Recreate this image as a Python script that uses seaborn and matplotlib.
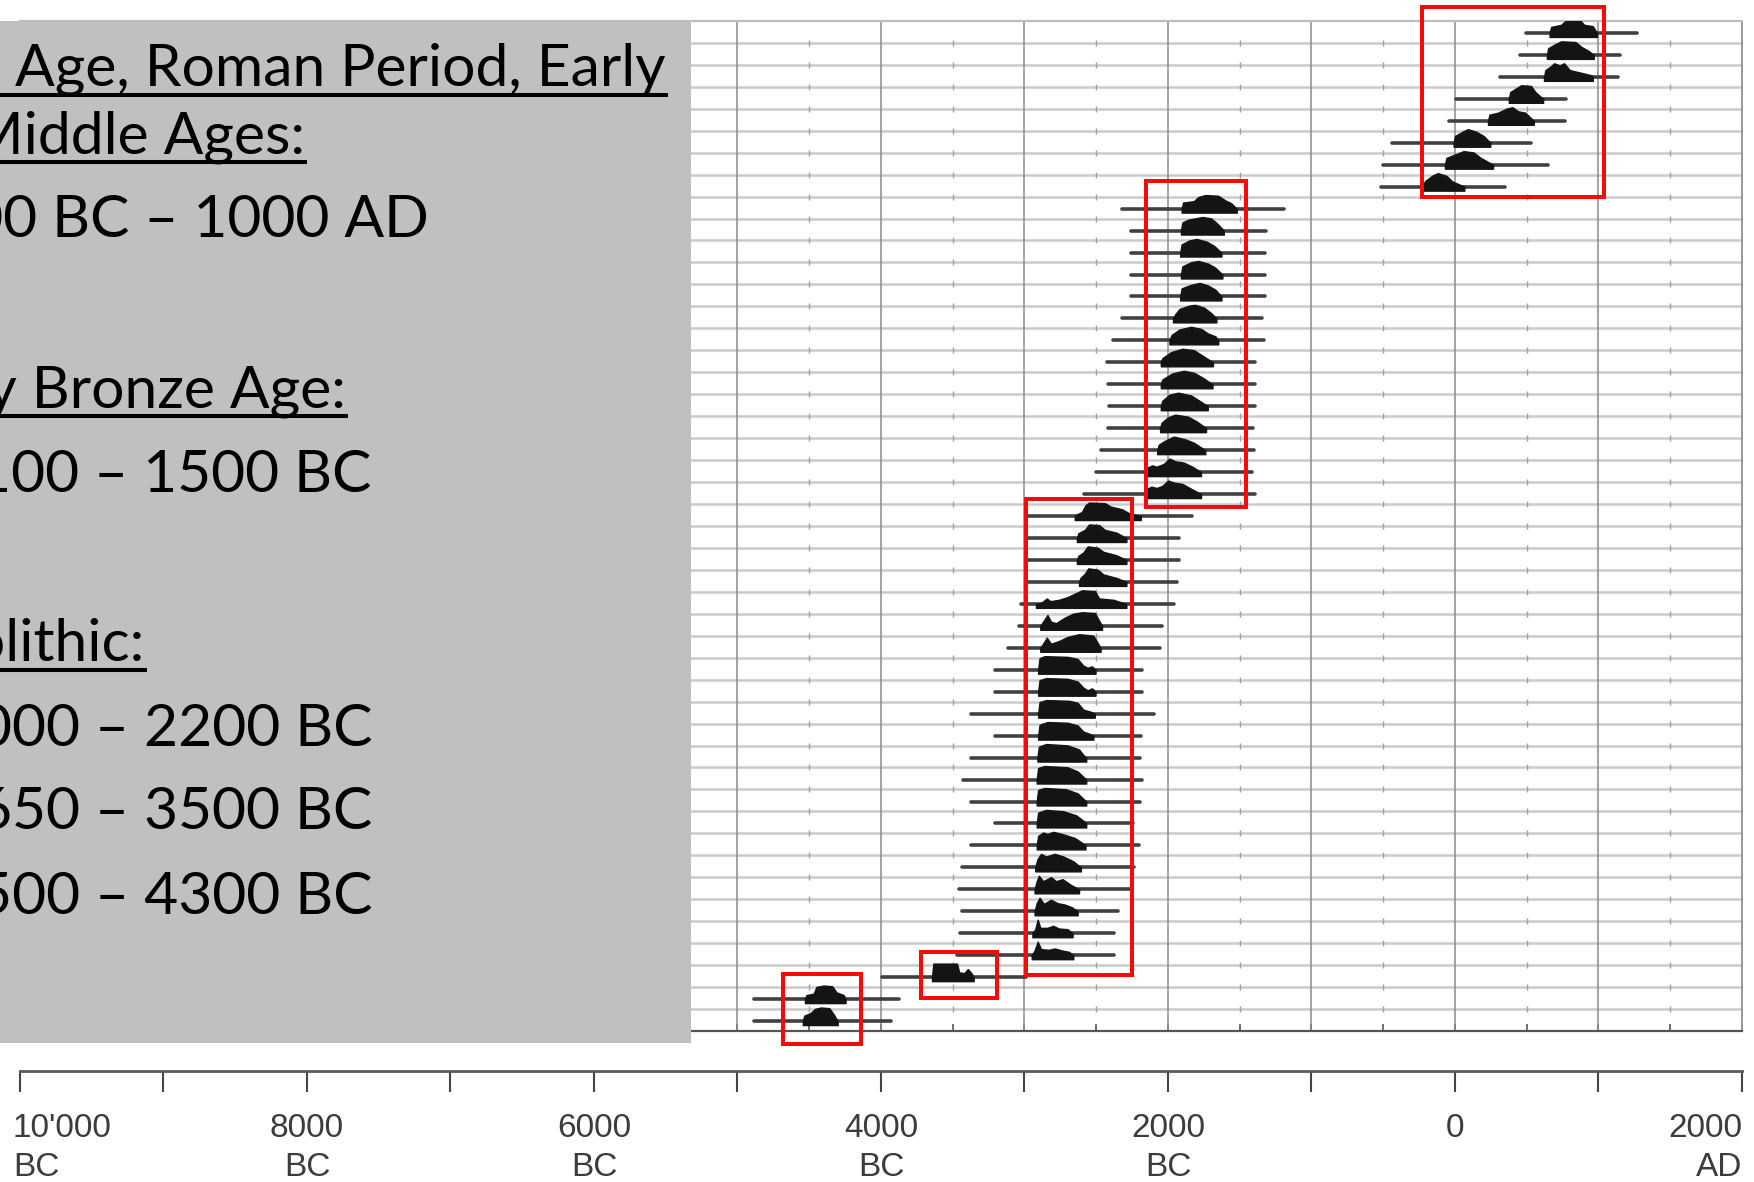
import numpy as np
import pandas as pd
import matplotlib
matplotlib.use("Agg")
import matplotlib.pyplot as plt
import matplotlib.transforms as mtransforms
from matplotlib.patches import Rectangle
import seaborn as sns

# calibrated dates: 95% range (years, negative = BC) per sample, top to bottom
range_lo = [492, 454, 312, 4, -44, -442, -504, -514,
            -2322, -2261, -2261, -2256, -2261, -2322, -2386, -2422, -2415, -2410, -2415, -2469, -2505, -2584,
            -2988, -2988, -2988, -2984, -3023, -3039, -3115, -3208, -3208, -3376, -3208, -3376, -3427, -3376,
            -3208, -3376, -3439, -3455, -3439, -3450, -3473,
            -3995, -4888, -4888]
range_hi = [1265, 1147, 1133, 777, 768, 530, 649, 350,
            -1189, -1315, -1325, -1325, -1325, -1348, -1332, -1391, -1391, -1391, -1408, -1403, -1415, -1391,
            -1834, -1926, -1926, -1938, -1961, -2042, -2053, -2180, -2180, -2099, -2185, -2192, -2180, -2192,
            -2245, -2203, -2238, -2250, -2347, -2377, -2377,
            -2991, -3877, -3933]

# probability shapes: (year, relative height)
shapes = [
    [(659, 0), (670, 0.45), (740, 0.6), (775, 0.95), (810, 1.0), (870, 0.95), (900, 0.6), (960, 0.5), (990, 0)],
    [(640, 0), (650, 0.5), (700, 0.8), (740, 1.0), (840, 0.95), (880, 0.6), (930, 0.3), (967, 0)],
    [(620, 0), (630, 0.5), (670, 0.8), (690, 1.0), (730, 0.85), (760, 1.0), (800, 0.5), (880, 0.3), (950, 0.12), (960, 0)],
    [(375, 0), (385, 0.5), (430, 0.8), (460, 1.0), (530, 0.95), (560, 0.5), (614, 0)],
    [(230, 0), (240, 0.45), (300, 0.6), (360, 0.9), (400, 1.0), (440, 0.7), (490, 0.6), (549, 0)],
    [(-10, 0), (0, 0.5), (50, 0.8), (90, 1.0), (150, 0.8), (200, 0.5), (246, 0)],
    [(-70, 0), (-60, 0.5), (0, 0.75), (60, 1.0), (130, 0.9), (180, 0.5), (265, 0)],
    [(-225, 0), (-210, 0.4), (-160, 0.8), (-120, 1.0), (-60, 0.8), (-20, 0.4), (65, 0)],
    [(-1905, 0), (-1895, 0.45), (-1820, 0.55), (-1790, 0.85), (-1740, 1.0), (-1650, 0.95), (-1600, 0.6), (-1560, 0.4), (-1521, 0)],
    [(-1910, 0), (-1900, 0.6), (-1860, 0.8), (-1760, 1.0), (-1700, 0.9), (-1660, 0.55), (-1611, 0)],
    [(-1915, 0), (-1905, 0.6), (-1850, 0.9), (-1800, 1.0), (-1730, 0.8), (-1680, 0.5), (-1628, 0)],
    [(-1910, 0), (-1900, 0.6), (-1840, 0.9), (-1790, 1.0), (-1720, 0.8), (-1670, 0.5), (-1621, 0)],
    [(-1915, 0), (-1905, 0.6), (-1840, 0.85), (-1780, 1.0), (-1720, 0.8), (-1670, 0.5), (-1628, 0)],
    [(-1965, 0), (-1950, 0.3), (-1920, 0.7), (-1850, 0.95), (-1810, 1.0), (-1750, 0.8), (-1700, 0.4), (-1663, 0)],
    [(-1990, 0), (-1975, 0.4), (-1920, 0.8), (-1840, 1.0), (-1770, 0.85), (-1720, 0.5), (-1670, 0.3), (-1650, 0)],
    [(-2050, 0), (-2040, 0.3), (-1980, 0.75), (-1900, 1.0), (-1820, 0.9), (-1760, 0.5), (-1687, 0)],
    [(-2050, 0), (-2040, 0.35), (-1970, 0.8), (-1890, 1.0), (-1820, 0.85), (-1760, 0.5), (-1690, 0)],
    [(-2050, 0), (-2040, 0.4), (-1990, 0.85), (-1930, 1.0), (-1840, 0.8), (-1780, 0.4), (-1723, 0)],
    [(-2055, 0), (-2045, 0.4), (-2000, 0.8), (-1950, 1.0), (-1860, 0.85), (-1800, 0.5), (-1735, 0)],
    [(-2075, 0), (-2065, 0.4), (-2020, 0.7), (-1960, 1.0), (-1880, 0.8), (-1820, 0.55), (-1740, 0)],
    [(-2155, 0), (-2140, 0.35), (-2110, 0.5), (-2080, 0.4), (-2030, 0.6), (-1990, 1.0), (-1950, 0.8), (-1890, 0.7), (-1830, 0.4), (-1770, 0)],
    [(-2160, 0), (-2145, 0.4), (-2115, 0.55), (-2080, 0.45), (-2040, 0.6), (-2000, 1.0), (-1960, 0.85), (-1900, 0.75), (-1840, 0.4), (-1770, 0)],
    [(-2650, 0), (-2630, 0.15), (-2600, 0.3), (-2575, 0.8), (-2550, 1.0), (-2440, 0.95), (-2400, 0.7), (-2320, 0.5), (-2270, 0.2), (-2190, 0)],
    [(-2635, 0), (-2625, 0.35), (-2580, 0.6), (-2550, 1.0), (-2480, 0.95), (-2440, 0.6), (-2360, 0.4), (-2290, 0)],
    [(-2635, 0), (-2625, 0.3), (-2590, 0.55), (-2560, 1.0), (-2490, 0.9), (-2450, 0.6), (-2360, 0.35), (-2290, 0)],
    [(-2620, 0), (-2610, 0.3), (-2580, 0.6), (-2555, 1.0), (-2490, 0.9), (-2450, 0.55), (-2360, 0.3), (-2290, 0)],
    [(-2920, 0), (-2880, 0.1), (-2845, 0.4), (-2820, 0.2), (-2760, 0.3), (-2700, 0.5), (-2640, 0.8), (-2600, 1.0), (-2510, 0.95), (-2480, 0.4), (-2380, 0.3), (-2290, 0)],
    [(-2890, 0), (-2865, 0.4), (-2840, 0.8), (-2815, 0.3), (-2780, 0.2), (-2720, 0.6), (-2660, 0.9), (-2600, 1.0), (-2510, 0.95), (-2460, 0)],
    [(-2890, 0), (-2865, 0.4), (-2845, 0.75), (-2815, 0.3), (-2760, 0.5), (-2700, 0.8), (-2620, 1.0), (-2520, 0.9), (-2470, 0)],
    [(-2905, 0), (-2895, 0.85), (-2860, 1.0), (-2700, 0.95), (-2630, 0.8), (-2590, 0.3), (-2560, 0.15), (-2530, 0.25), (-2505, 0)],
    [(-2905, 0), (-2895, 0.85), (-2850, 1.0), (-2700, 0.95), (-2630, 0.75), (-2590, 0.3), (-2560, 0.1), (-2530, 0.25), (-2505, 0)],
    [(-2905, 0), (-2895, 0.85), (-2850, 1.0), (-2690, 0.95), (-2630, 0.8), (-2590, 0.3), (-2540, 0.15), (-2510, 0)],
    [(-2905, 0), (-2895, 0.8), (-2840, 1.0), (-2700, 0.95), (-2630, 0.75), (-2590, 0.3), (-2550, 0.15), (-2520, 0)],
    [(-2910, 0), (-2900, 0.8), (-2850, 1.0), (-2700, 0.9), (-2620, 0.6), (-2590, 0.2), (-2570, 0)],
    [(-2915, 0), (-2905, 0.85), (-2860, 1.0), (-2700, 0.9), (-2630, 0.6), (-2590, 0.2), (-2570, 0)],
    [(-2915, 0), (-2905, 0.85), (-2860, 1.0), (-2710, 0.9), (-2630, 0.6), (-2590, 0.2), (-2570, 0)],
    [(-2915, 0), (-2905, 0.8), (-2850, 1.0), (-2730, 0.9), (-2640, 0.6), (-2590, 0.2), (-2570, 0)],
    [(-2915, 0), (-2905, 0.7), (-2870, 0.95), (-2840, 0.85), (-2800, 1.0), (-2740, 0.85), (-2650, 0.55), (-2600, 0.2), (-2575, 0)],
    [(-2925, 0), (-2910, 0.6), (-2885, 1.0), (-2850, 0.8), (-2790, 1.0), (-2730, 0.8), (-2660, 0.45), (-2607, 0)],
    [(-2930, 0), (-2915, 0.6), (-2900, 1.0), (-2870, 0.6), (-2815, 0.9), (-2780, 0.6), (-2735, 0.75), (-2680, 0.35), (-2620, 0)],
    [(-2930, 0), (-2915, 0.6), (-2895, 1.0), (-2865, 0.55), (-2815, 0.85), (-2770, 0.6), (-2720, 0.5), (-2670, 0.3), (-2630, 0)],
    [(-2945, 0), (-2925, 0.3), (-2908, 1.0), (-2890, 0.4), (-2840, 0.4), (-2800, 0.55), (-2760, 0.35), (-2700, 0.3), (-2665, 0)],
    [(-2950, 0), (-2930, 0.35), (-2908, 1.0), (-2885, 0.45), (-2830, 0.4), (-2790, 0.5), (-2740, 0.35), (-2690, 0.25), (-2660, 0)],
    [(-3645, 0), (-3635, 1.0), (-3470, 1.0), (-3455, 0.35), (-3420, 0.3), (-3395, 0.6), (-3370, 0.3), (-3354, 0)],
    [(-4530, 0), (-4520, 0.3), (-4470, 0.4), (-4450, 0.9), (-4400, 1.0), (-4340, 0.95), (-4310, 0.5), (-4260, 0.3), (-4247, 0)],
    [(-4545, 0), (-4535, 0.4), (-4490, 0.6), (-4460, 0.9), (-4420, 1.0), (-4360, 0.95), (-4330, 0.5), (-4302, 0)],
]

# red boxes around the period groups (years, row positions)
box_x0 = [-229, -2154, -2991, -3723, -4686]
box_x1 = [1040, -1457, -2252, -3193, -4142]
box_r0 = [-1.18, 6.74, 21.22, 41.85, 42.85]
box_r1 = [7.47, 21.58, 42.90, 43.94, 46.04]

# timeline labels
tl_ticks = list(range(-10000, 2001, 1000))
tl_labels = ["10'000\nBC", "", "8000\nBC", "", "6000\nBC", "", "4000\nBC", "", "2000\nBC", "", "0", "", "2000\nAD"]

# grey panel text
panel_lines = ["Iron Age, Roman Period, Early", "Middle Ages:", "800 BC – 1000 AD",
               "Early Bronze Age:", "2100 – 1500 BC",
               "Neolithic:", "3000 – 2200 BC", "3650 – 3500 BC", "4500 – 4300 BC"]
panel_right = [666, 305, 429, 346, 371, 145, 372, 372, 372]
panel_base = [86, 153, 237, 407, 492, 661, 746, 829, 914]
panel_under = [True, True, False, True, False, True, False, False, False]

sns.set_theme(style="white")
plt.rcParams['font.family'] = ['Liberation Sans', 'DejaVu Sans']

W, H = 1754, 1182
fig = plt.figure(figsize=(W / 100, H / 100), dpi=100)
fig.patch.set_facecolor("white")

n = len(range_lo)
ax = fig.add_axes([20 / W, 1 - 1031 / H, 1722 / W, 1010 / H])

# separators and minor marks
for i in range(n - 1):
    ax.axhline(i + 0.45, color="#cbcbcb", lw=1.8, zorder=1)
sep_y = np.arange(n - 1) + 0.45
for xm in range(-9500, 2000, 1000):
    ax.plot(np.full(len(sep_y), xm), sep_y, ls="none", marker="|", ms=4, mew=1.0, color="#a0a0a0", zorder=1)
ax.vlines(range(-10000, 2001, 1000), -1, n + 1, color="#8c8c8c", lw=1.1, zorder=1)

# range lines via seaborn
seg = pd.DataFrame({
    "year": np.ravel(np.column_stack([range_lo, range_hi])),
    "row": np.repeat(np.arange(n), 2),
})
sns.lineplot(data=seg, x="year", y="row", units="row", estimator=None, sort=False,
             color="#404040", lw=2.6, ax=ax, zorder=2, legend=False)

for i, pts in enumerate(shapes):
    xs = np.array([p[0] for p in pts], dtype=float)
    hs = np.array([p[1] for p in pts], dtype=float)
    ax.fill_between(xs, i + 0.18, i - 0.62 * hs, color="#141414", lw=1.0, edgecolor="#141414", zorder=3)

for x0, x1, r0, r1 in zip(box_x0, box_x1, box_r0, box_r1):
    ax.add_patch(Rectangle((x0, r0), x1 - x0, r1 - r0, fill=False, edgecolor="#f20d0d",
                           lw=2.9, clip_on=False, zorder=6))

ax.set_xlim(-10000, 2000)
ax.set_ylim(n - 1 + 0.45, -0.546)
ax.set_xlabel("")
ax.set_ylabel("")
ax.set_yticks([])
ax.set_xticks(range(-10000, 2001, 1000))
ax.set_xticks(range(-9500, 2000, 1000), minor=True)
ax.tick_params(axis="x", which="both", direction="in", bottom=True, labelbottom=False,
               length=5, width=1.2, color="#555555")
ax.spines["left"].set_visible(False)
ax.spines["top"].set_color("#bdbdbd")
ax.spines["top"].set_linewidth(1.6)
ax.spines["right"].set_color("#9a9a9a")
ax.spines["right"].set_linewidth(1.4)
ax.spines["bottom"].set_color("#555555")
ax.spines["bottom"].set_linewidth(1.6)

# timeline axis below
ax2 = fig.add_axes([20 / W, 1 - 1071 / H, 1722 / W, 0.0001])
ax2.set_xlim(-10000, 2000)
ax2.set_yticks([])
ax2.set_xticks(tl_ticks)
ax2.set_xticklabels(tl_labels)
for s in ["left", "right", "top"]:
    ax2.spines[s].set_visible(False)
ax2.spines["bottom"].set_color("#5a5a5a")
ax2.spines["bottom"].set_linewidth(2.0)
ax2.tick_params(axis="x", direction="out", bottom=True, length=15, width=1.5, color="#444444",
                labelsize=24, labelcolor="#3c3c3c", pad=15)
labs = ax2.get_xticklabels()
for lb in labs:
    lb.set_linespacing(1.35)
labs[0].set_horizontalalignment("left")
labs[0].set_transform(labs[0].get_transform()
                      + mtransforms.ScaledTranslation(-0.07, 0, fig.dpi_scale_trans))
labs[-1].set_horizontalalignment("right")

# grey panel with the period text
ov = fig.add_axes([0, 0, 1, 1], zorder=10)
ov.set_xlim(0, W)
ov.set_ylim(H, 0)
ov.axis("off")
ov.add_patch(Rectangle((0, 21), 691, 1022, facecolor="#c0c0c0", edgecolor="none"))

renderer = fig.canvas.get_renderer()
probe = ov.text(0, 0, "Age, Roman Period, Early", fontsize=40, family=["Lato", "DejaVu Sans"])
pw = probe.get_window_extent(renderer).width
probe.remove()
fs = 40 * 650 / pw

for txt, xr, yb, ul in zip(panel_lines, panel_right, panel_base, panel_under):
    ov.text(xr, yb, txt, fontsize=fs, family=["Lato", "DejaVu Sans"], color="black",
            ha="right", va="baseline", clip_on=True)
    if ul:
        ov.plot([0, xr + 2], [yb + 9, yb + 9], color="black", lw=2.9, solid_capstyle="butt")

fig.savefig("out.png", dpi=100)
